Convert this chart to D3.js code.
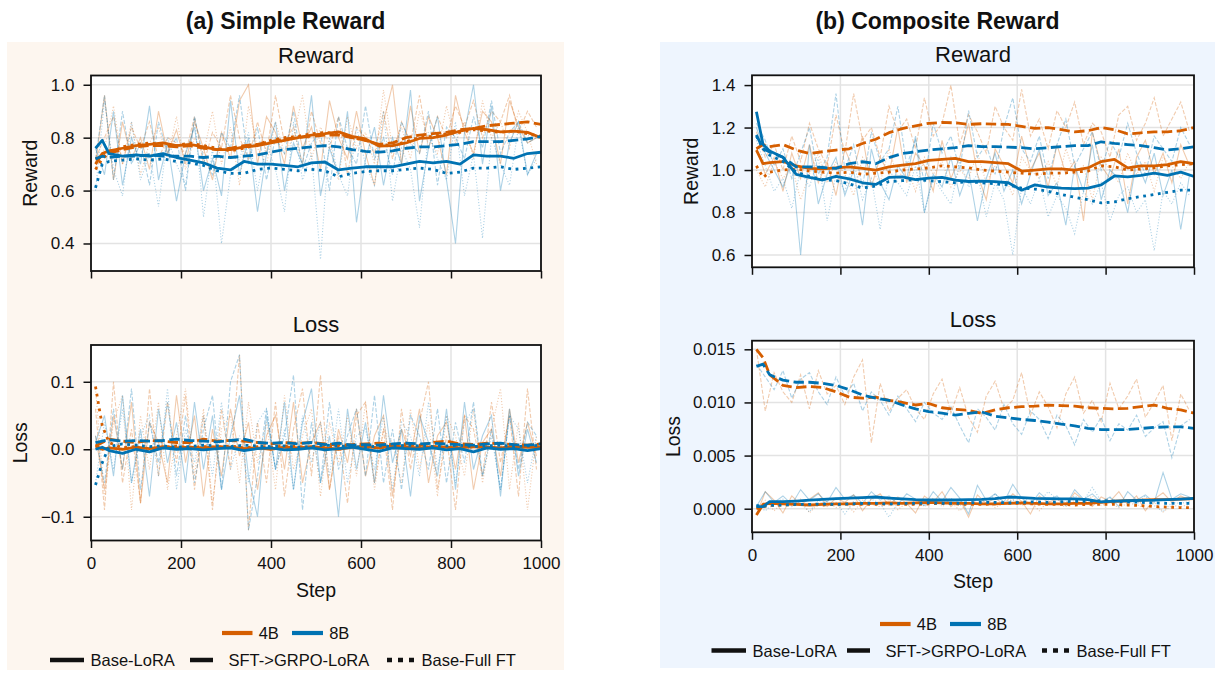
<!DOCTYPE html>
<html><head><meta charset="utf-8">
<script src="https://cdn.jsdelivr.net/npm/d3@7"></script>
<style>body{margin:0;background:#fff}svg{display:block}</style>
</head><body><svg id="chart" width="1215" height="673"></svg>
<script>
// ---------------- DATA ----------------
const rawSteps = [10,30,50,70,90,110,130,150,170,190,210,230,250,270,290,310,330,350,370,390,410,430,450,470,490,510,530,550,570,590,610,630,650,670,690,710,730,750,770,790,810,830,850,870,890,910,930,950,970,990];
const smoothSteps = [10,25,40,70,100,130,160,190,220,250,280,310,340,370,400,430,460,490,520,550,580,610,640,670,700,730,760,790,820,850,880,910,940,970,1000];
const xTicks = [0,200,400,600,800,1000];
const modelLabels = ["4B","8B"];
const methodLabels = ["Base-LoRA","SFT->GRPO-LoRA","Base-Full FT"];
const panelTitles = ["(a) Simple Reward","(b) Composite Reward"];

// (a) Simple reward — Reward
const yTicksRewA = [0.4,0.6,0.8,1.0];
const rewA_raw_4B_lora = [0.70,0.96,0.64,0.86,0.72,0.80,0.68,0.90,0.74,0.83,0.70,0.86,0.76,0.64,0.82,0.72,0.94,1.00,0.70,0.88,0.82,0.70,0.92,0.76,0.84,0.68,0.94,0.80,0.72,0.90,0.74,0.62,0.86,1.00,0.70,0.92,0.74,0.88,0.80,0.66,0.96,0.82,0.74,0.90,0.86,0.70,0.94,0.84,0.78,0.80];
const rewA_raw_4B_sft = [0.72,0.80,0.88,0.70,0.84,0.76,0.86,0.72,0.80,0.78,0.74,0.88,0.70,0.82,0.76,0.96,0.80,0.72,0.86,0.74,0.96,0.78,0.84,0.70,0.90,0.78,0.76,0.88,0.66,0.84,0.80,0.74,0.90,0.72,0.86,0.78,0.96,0.76,0.88,0.80,0.92,0.84,0.94,0.80,0.90,0.86,0.96,0.82,0.90,0.84];
const rewA_raw_4B_full = [0.68,0.76,0.92,0.70,0.86,0.66,0.78,0.84,0.72,0.88,0.68,0.80,0.74,0.90,0.70,0.84,0.62,0.92,0.76,0.70,0.86,0.74,0.80,0.96,0.72,0.84,0.78,0.64,0.88,0.76,0.82,0.70,0.98,0.76,0.84,0.72,0.90,0.80,0.74,0.92,0.78,0.86,0.72,0.94,0.80,0.86,0.76,0.90,0.82,0.70];
const rewA_raw_8B_lora = [0.76,0.66,0.90,0.62,0.80,0.70,0.92,0.64,0.78,0.56,0.74,0.84,0.60,0.72,0.58,0.94,0.66,0.80,0.52,0.74,0.86,0.60,0.78,0.70,0.96,0.58,0.76,0.66,0.90,0.48,0.72,0.84,0.62,0.80,0.70,0.98,0.56,0.76,0.88,0.64,0.40,0.82,1.00,0.70,0.92,0.60,0.78,0.86,0.66,0.74];
const rewA_raw_8B_sft = [0.72,0.96,0.64,0.90,0.70,0.78,0.62,0.86,0.74,0.80,0.60,0.88,0.72,0.66,0.82,0.76,0.96,0.70,0.84,0.64,0.80,0.74,0.90,0.68,0.78,0.82,0.60,0.88,0.76,0.70,0.92,0.72,0.80,0.66,0.86,0.78,0.74,0.90,0.62,0.84,0.80,0.72,0.88,0.76,0.94,0.74,0.82,0.86,0.78,0.80];
const rewA_raw_8B_full = [0.60,0.94,0.68,0.58,0.86,0.64,0.74,0.54,0.80,0.70,0.62,0.88,0.50,0.76,0.40,0.66,0.72,0.82,0.60,0.78,0.68,0.52,0.86,0.64,0.74,0.34,0.80,0.66,0.58,0.84,0.70,0.62,0.90,0.56,0.76,0.68,0.46,0.82,0.72,0.64,0.86,0.58,0.74,0.42,0.80,0.70,0.62,0.84,0.66,0.72];
const rewA_sm_4B_lora = [0.70,0.74,0.75,0.76,0.77,0.775,0.78,0.77,0.775,0.765,0.755,0.755,0.765,0.77,0.78,0.79,0.80,0.81,0.815,0.822,0.805,0.795,0.768,0.77,0.78,0.797,0.80,0.81,0.825,0.835,0.83,0.822,0.825,0.82,0.80];
const rewA_sm_4B_sft = [0.72,0.73,0.74,0.755,0.765,0.77,0.77,0.765,0.77,0.76,0.755,0.76,0.77,0.775,0.785,0.795,0.80,0.805,0.81,0.81,0.80,0.79,0.775,0.78,0.80,0.81,0.815,0.82,0.83,0.835,0.845,0.85,0.855,0.86,0.85];
const rewA_sm_4B_full = [0.68,0.72,0.74,0.765,0.775,0.78,0.775,0.77,0.78,0.77,0.76,0.75,0.76,0.775,0.79,0.80,0.805,0.815,0.82,0.815,0.80,0.79,0.775,0.77,0.785,0.80,0.805,0.815,0.82,0.83,0.825,0.82,0.825,0.815,0.805];
const rewA_sm_8B_lora = [0.76,0.79,0.74,0.73,0.735,0.73,0.74,0.725,0.715,0.705,0.685,0.678,0.71,0.70,0.70,0.695,0.69,0.705,0.708,0.678,0.685,0.69,0.69,0.69,0.70,0.71,0.705,0.71,0.70,0.735,0.73,0.73,0.722,0.74,0.745];
const rewA_sm_8B_sft = [0.72,0.73,0.725,0.73,0.73,0.735,0.73,0.73,0.73,0.725,0.73,0.725,0.73,0.735,0.745,0.755,0.76,0.765,0.77,0.765,0.755,0.748,0.745,0.75,0.76,0.765,0.765,0.77,0.775,0.785,0.785,0.785,0.79,0.795,0.805];
const rewA_sm_8B_full = [0.61,0.70,0.71,0.715,0.72,0.715,0.72,0.71,0.705,0.695,0.675,0.665,0.665,0.68,0.685,0.68,0.675,0.68,0.675,0.652,0.665,0.672,0.675,0.675,0.68,0.685,0.68,0.665,0.67,0.685,0.685,0.69,0.68,0.685,0.69];

// (a) Simple reward — Loss
const yTicksLossA = [-0.1,0.0,0.1];
const lossA_raw_4B_lora = [0.02,-0.06,0.05,-0.03,0.07,-0.08,0.04,0.01,-0.05,0.08,-0.02,0.05,-0.07,0.03,-0.04,0.06,-0.01,0.04,-0.06,0.02,0.05,-0.03,0.07,-0.05,0.01,0.04,-0.06,0.03,-0.02,0.06,-0.04,0.02,0.05,-0.07,0.03,-0.01,0.06,-0.05,0.02,0.04,-0.03,0.05,-0.06,0.01,0.03,-0.04,0.06,-0.02,0.04,-0.01];
const lossA_raw_4B_sft = [0.06,-0.09,0.10,-0.05,0.03,-0.08,0.09,-0.04,0.07,-0.02,0.08,-0.06,0.05,-0.09,0.06,-0.03,0.14,-0.12,0.04,-0.05,0.07,-0.07,0.03,0.09,-0.04,0.11,-0.06,0.02,-0.08,0.05,0.07,-0.05,0.03,-0.09,0.06,-0.03,0.04,0.10,-0.06,0.02,-0.09,0.05,0.03,-0.04,0.07,-0.02,0.05,-0.07,0.09,-0.03];
const lossA_raw_4B_full = [0.09,-0.07,0.04,0.08,-0.09,0.05,-0.03,0.07,-0.06,0.02,0.09,-0.04,0.06,-0.08,0.03,0.05,-0.05,0.07,-0.02,0.04,-0.06,0.08,-0.03,0.02,0.06,-0.07,0.04,-0.02,0.05,-0.04,0.07,-0.06,0.03,0.01,-0.05,0.06,-0.03,0.04,-0.07,0.05,0.02,-0.04,0.06,-0.05,0.03,0.09,-0.06,0.04,-0.09,0.02];
const lossA_raw_8B_lora = [0.01,0.05,-0.04,0.08,-0.05,0.03,-0.07,0.06,-0.02,0.04,-0.05,0.07,-0.03,0.05,-0.06,0.02,0.08,-0.04,-0.10,0.05,-0.03,0.07,-0.06,0.04,0.09,-0.05,0.02,-0.10,0.06,-0.03,0.04,-0.05,0.08,-0.02,0.03,-0.07,0.05,0.01,-0.04,0.06,-0.06,0.07,-0.03,0.02,0.05,-0.07,0.06,-0.04,0.03,-0.02];
const lossA_raw_8B_sft = [0.02,-0.05,0.06,-0.03,0.09,-0.06,0.04,-0.02,0.07,-0.04,0.05,-0.05,0.03,0.08,-0.06,0.10,0.14,-0.12,-0.04,0.06,-0.03,0.02,0.11,-0.09,0.04,-0.05,0.07,-0.03,0.02,0.06,-0.04,0.08,-0.05,0.03,-0.06,0.05,0.02,-0.03,0.06,-0.05,0.04,-0.02,0.07,-0.04,0.03,-0.06,0.05,-0.03,0.04,0.02];
const lossA_raw_8B_full = [-0.05,0.04,-0.03,0.06,-0.05,0.02,0.05,-0.04,0.09,-0.06,0.03,-0.02,0.05,-0.04,0.07,-0.03,0.02,-0.05,0.04,0.06,-0.03,0.03,-0.06,0.05,-0.02,0.04,-0.04,0.06,-0.05,0.02,0.03,-0.03,0.05,-0.06,0.04,0.02,-0.04,0.07,-0.03,0.05,-0.05,0.04,0.06,-0.04,0.02,-0.06,0.05,0.03,-0.05,0.02];
const lossA_sm_4B_lora = [0.005,0.0,0.002,0.0,0.003,0.001,0.004,0.002,0.003,0.002,0.004,0.003,0.001,0.002,0.0,0.003,0.002,0.004,0.002,0.0,0.003,0.004,0.002,0.005,0.003,0.002,0.004,0.003,0.002,0.004,0.003,0.002,0.004,0.003,0.003];
const lossA_sm_4B_sft = [0.005,0.01,0.015,0.012,0.01,0.013,0.012,0.01,0.01,0.015,0.012,0.013,0.012,0.01,0.008,0.01,0.009,0.01,0.008,0.006,0.007,0.008,0.009,0.007,0.008,0.006,0.01,0.012,0.008,0.007,0.009,0.008,0.007,0.006,0.008];
const lossA_sm_4B_full = [0.093,0.035,0.01,0.002,0.004,-0.004,0.003,0.005,0.002,0.004,0.003,0.005,0.002,0.004,0.003,0.005,0.004,0.002,0.004,0.003,0.005,0.003,0.002,0.004,0.005,0.003,0.004,0.002,0.005,0.003,0.004,0.002,0.003,0.004,0.003];
const lossA_sm_8B_lora = [0.0,0.003,-0.002,-0.006,0.0,-0.004,0.002,0.0,0.001,-0.001,0.001,0.002,-0.002,0.001,0.002,-0.001,0.0,0.002,-0.001,0.001,0.003,0.0,-0.003,0.002,0.001,0.0,0.002,-0.001,0.001,-0.004,0.002,0.0,0.001,-0.002,0.001];
const lossA_sm_8B_sft = [0.01,0.012,0.014,0.012,0.013,0.012,0.013,0.015,0.013,0.012,0.011,0.013,0.015,0.01,0.009,0.01,0.008,0.01,0.007,0.009,0.006,0.007,0.006,0.008,0.009,0.008,0.009,0.008,0.007,0.006,0.008,0.009,0.007,0.006,0.008];
const lossA_sm_8B_full = [-0.053,-0.02,0.004,0.008,0.006,0.004,0.005,0.003,0.004,0.006,0.005,0.004,0.006,0.005,0.004,0.005,0.003,0.004,0.006,0.005,0.004,0.003,0.005,0.004,0.006,0.005,0.004,0.005,0.006,0.004,0.005,0.006,0.004,0.005,0.006];

// (b) Composite reward — Reward
const yTicksRewB = [0.6,0.8,1.0,1.2,1.4];
const rewB_raw_4B_lora = [1.10,0.98,1.06,0.90,1.08,0.96,1.12,0.94,1.04,0.88,1.10,1.00,1.16,0.92,1.06,0.98,1.20,0.94,1.08,1.02,0.90,1.14,0.96,1.06,1.22,0.98,0.86,1.10,1.02,0.94,1.16,1.00,1.08,0.92,1.12,0.98,1.04,0.76,1.18,1.02,0.96,1.10,0.84,1.06,1.14,0.98,1.08,0.94,1.12,1.02];
const rewB_raw_4B_sft = [1.18,1.06,1.12,1.00,1.16,1.04,1.22,1.10,1.02,1.26,1.08,1.36,1.14,1.20,1.06,1.30,1.18,1.24,1.10,1.34,1.16,1.22,1.40,1.12,1.26,1.18,1.08,1.30,1.20,1.14,1.38,1.16,1.24,1.10,1.28,1.20,1.32,1.12,1.22,1.18,1.06,1.26,1.30,1.14,1.22,1.34,1.16,1.24,1.32,1.18];
const rewB_raw_4B_full = [1.00,0.92,1.04,0.96,1.02,0.86,0.98,1.08,0.94,1.04,0.98,0.88,1.06,1.00,0.94,1.10,0.96,1.02,0.90,1.06,0.98,1.04,0.92,1.00,0.96,1.08,0.94,1.02,0.98,0.88,1.06,1.00,0.96,1.04,0.92,1.10,0.98,1.02,0.86,1.06,1.00,0.94,1.08,0.98,1.04,0.90,1.06,1.02,0.96,1.04];
const rewB_raw_8B_lora = [1.20,1.08,1.00,0.92,1.04,0.60,1.12,0.84,0.98,1.06,0.88,1.00,0.74,1.10,0.94,0.86,1.02,0.96,1.16,0.80,0.98,0.92,1.06,0.88,1.00,0.76,0.96,1.08,0.90,1.00,0.84,0.98,1.10,0.88,0.94,0.74,1.02,0.90,1.12,0.86,1.00,0.96,0.80,1.04,0.94,1.08,0.88,1.00,0.72,0.98];
const rewB_raw_8B_sft = [1.22,1.14,1.02,1.10,0.96,1.08,1.20,0.98,1.06,1.36,1.00,1.12,0.92,1.18,1.04,1.10,1.30,1.02,1.14,0.94,1.22,1.08,1.16,1.00,1.28,1.06,1.12,0.98,1.20,1.34,1.10,1.04,1.16,0.96,1.12,1.24,1.02,1.10,1.18,1.00,1.14,1.06,1.22,1.08,0.98,1.16,1.10,1.04,1.20,1.12];
const rewB_raw_8B_full = [1.14,1.02,0.90,0.96,0.82,1.00,0.92,1.06,0.76,0.98,0.90,1.04,0.86,0.96,0.72,1.00,0.94,0.88,1.02,0.80,0.96,0.90,0.84,1.04,0.92,0.98,0.78,0.94,0.86,0.60,0.92,0.84,0.96,0.78,0.88,0.82,0.70,0.90,0.84,0.94,0.76,0.88,0.92,0.80,0.86,0.62,0.90,0.84,0.94,0.88];
const rewB_sm_4B_lora = [1.094,1.03,1.035,1.04,1.02,1.008,1.005,1.01,1.015,1.008,1.0,1.015,1.023,1.03,1.045,1.05,1.055,1.04,1.04,1.035,1.03,0.995,1.0,1.005,1.005,1.0,1.01,1.04,1.05,1.01,1.02,1.02,1.025,1.04,1.03];
const rewB_sm_4B_sft = [1.10,1.12,1.11,1.12,1.094,1.078,1.086,1.094,1.10,1.125,1.145,1.176,1.195,1.208,1.22,1.224,1.222,1.215,1.218,1.216,1.215,1.205,1.196,1.20,1.19,1.18,1.185,1.20,1.19,1.17,1.175,1.18,1.18,1.185,1.20];
const rewB_sm_4B_full = [1.02,0.965,0.99,1.0,1.005,0.995,0.99,0.985,0.99,0.98,0.985,0.99,1.0,1.005,1.01,1.02,1.015,1.01,1.0,0.995,0.99,0.985,0.98,0.985,0.985,0.99,0.995,1.02,1.015,1.0,1.005,1.01,1.02,1.025,1.03];
const rewB_sm_8B_lora = [1.274,1.12,1.09,1.06,0.98,0.965,0.953,0.97,0.958,0.94,0.932,0.965,0.968,0.955,0.962,0.965,0.952,0.946,0.948,0.945,0.94,0.905,0.93,0.92,0.915,0.912,0.915,0.93,0.972,0.968,0.975,0.985,0.975,0.99,0.97];
const rewB_sm_8B_sft = [1.165,1.10,1.085,1.06,1.015,1.015,1.012,1.008,1.03,1.039,1.03,1.058,1.078,1.086,1.094,1.10,1.105,1.115,1.11,1.11,1.108,1.105,1.10,1.105,1.11,1.115,1.115,1.133,1.125,1.12,1.115,1.105,1.095,1.10,1.11];
const rewB_sm_8B_full = [1.16,1.10,1.07,1.04,0.99,0.97,0.955,0.95,0.935,0.915,0.925,0.945,0.95,0.955,0.95,0.945,0.94,0.945,0.94,0.935,0.93,0.915,0.91,0.90,0.885,0.872,0.86,0.845,0.85,0.865,0.875,0.885,0.895,0.905,0.905];

// (b) Composite reward — Loss
const yTicksLossB = [0.000,0.005,0.010,0.015];
const lossB_raw_4B_lora = [-0.0006,0.0016,0.0008,-0.0004,0.0012,0.0004,0.0009,0.0015,0.0002,0.0010,0.0006,0.0013,-0.0002,0.0009,0.0014,0.0003,0.0011,0.0005,-0.0004,0.0012,0.0006,0.0016,0.0002,0.0009,-0.0008,0.0013,0.0005,0.0010,0.0004,0.0014,0.0007,-0.0005,0.0012,0.0006,0.0009,0.0003,0.0015,0.0008,0.0002,0.0011,0.0007,0.0016,0.0004,0.0012,-0.0002,0.0009,0.0015,0.0006,0.0012,0.0008];
const lossB_raw_4B_sft = [0.0150,0.0092,0.0128,0.0110,0.0100,0.0126,0.0094,0.0130,0.0108,0.0116,0.0098,0.0124,0.0140,0.0062,0.0118,0.0092,0.0104,0.0112,0.0094,0.0084,0.0108,0.0122,0.0090,0.0114,0.0086,0.0072,0.0106,0.0120,0.0094,0.0102,0.0128,0.0088,0.0110,0.0096,0.0076,0.0108,0.0124,0.0090,0.0102,0.0082,0.0118,0.0094,0.0106,0.0122,0.0086,0.0100,0.0116,0.0064,0.0108,0.0092];
const lossB_raw_4B_full = [0.0000,0.0008,-0.0002,0.0006,0.0003,0.0009,-0.0004,0.0005,0.0007,0.0001,0.0006,-0.0003,0.0008,0.0004,0.0002,0.0009,-0.0001,0.0006,0.0005,0.0003,0.0010,0.0002,0.0007,-0.0002,0.0006,0.0004,0.0008,0.0001,0.0005,0.0009,0.0003,0.0006,-0.0002,0.0007,0.0004,0.0002,0.0008,0.0005,0.0012,0.0003,0.0006,0.0001,0.0005,0.0004,0.0000,0.0006,-0.0003,0.0003,0.0002,0.0004];
const lossB_raw_8B_lora = [0.0002,0.0016,0.0006,0.0012,0.0004,0.0018,0.0008,0.0014,0.0006,0.0020,0.0009,0.0013,0.0005,0.0016,0.0008,0.0012,0.0004,0.0014,0.0009,0.0003,0.0016,0.0007,0.0020,0.0010,-0.0005,0.0022,0.0008,0.0014,0.0006,0.0023,0.0010,0.0004,0.0015,0.0008,0.0012,0.0003,0.0018,0.0009,0.0014,0.0006,0.0011,0.0002,0.0016,0.0008,0.0013,0.0006,0.0034,0.0009,0.0014,0.0011];
const lossB_raw_8B_sft = [0.0136,0.0124,0.0112,0.0130,0.0104,0.0122,0.0128,0.0110,0.0098,0.0124,0.0106,0.0118,0.0092,0.0110,0.0102,0.0088,0.0106,0.0094,0.0082,0.0100,0.0090,0.0084,0.0096,0.0078,0.0062,0.0094,0.0086,0.0074,0.0098,0.0080,0.0070,0.0092,0.0084,0.0066,0.0088,0.0078,0.0060,0.0084,0.0072,0.0086,0.0064,0.0080,0.0074,0.0088,0.0068,0.0076,0.0082,0.0048,0.0078,0.0084];
const lossB_raw_8B_full = [0.0004,-0.0002,0.0006,0.0009,0.0002,0.0005,-0.0003,0.0008,0.0004,0.0006,-0.0005,0.0007,0.0003,0.0009,0.0005,-0.0008,0.0006,0.0004,0.0008,0.0002,0.0007,0.0005,0.0010,0.0003,0.0006,0.0009,0.0004,0.0014,0.0006,0.0008,0.0005,0.0011,0.0007,0.0016,0.0009,0.0006,0.0012,0.0008,0.0020,0.0007,0.0010,0.0006,0.0009,0.0004,0.0012,0.0003,-0.0003,0.0006,0.0005,0.0007];
const lossB_sm_4B_lora = [-0.0006,0.0004,0.0005,0.00045,0.0004,0.00035,0.0004,0.00045,0.00045,0.0005,0.0005,0.00055,0.0005,0.00055,0.0006,0.00055,0.0005,0.0005,0.00045,0.00045,0.0005,0.00055,0.0005,0.00045,0.00045,0.0005,0.0005,0.0006,0.0007,0.00075,0.0008,0.00085,0.00085,0.0009,0.00095];
const lossB_sm_4B_sft = [0.0150,0.0142,0.0126,0.0116,0.0114,0.0115,0.0114,0.0110,0.0105,0.0104,0.0105,0.0102,0.0100,0.00976,0.0099,0.0095,0.00935,0.00925,0.00897,0.0093,0.0095,0.0096,0.00965,0.00975,0.0097,0.00965,0.0095,0.00944,0.0094,0.00945,0.0096,0.00975,0.00945,0.0093,0.0090];
const lossB_sm_4B_full = [0.0000,0.0002,0.0003,0.00035,0.0004,0.0004,0.00035,0.0004,0.00045,0.0004,0.0004,0.00045,0.0004,0.0004,0.00045,0.0005,0.00045,0.0004,0.0004,0.00045,0.0005,0.0005,0.00045,0.0004,0.0004,0.00035,0.0004,0.0004,0.0004,0.00035,0.0003,0.0002,0.00015,0.0001,0.0001];
const lossB_sm_8B_lora = [0.0002,0.0002,0.00066,0.00066,0.00072,0.0008,0.00088,0.00095,0.0010,0.00105,0.0011,0.0010,0.00092,0.00085,0.00082,0.00082,0.00082,0.00085,0.00088,0.00095,0.0011,0.00105,0.00098,0.00095,0.00092,0.00092,0.00085,0.00065,0.00072,0.00075,0.00078,0.0008,0.00085,0.0009,0.00097];
const lossB_sm_8B_sft = [0.0134,0.0136,0.0126,0.0121,0.0119,0.0119,0.0118,0.0116,0.0112,0.0107,0.0104,0.0102,0.00976,0.0094,0.00913,0.0090,0.0088,0.00897,0.0091,0.0087,0.00855,0.0084,0.0083,0.00815,0.00795,0.0078,0.00756,0.00745,0.00745,0.00745,0.00755,0.00765,0.0077,0.0077,0.00756];
const lossB_sm_8B_full = [0.0003,0.00025,0.0003,0.00035,0.0004,0.0004,0.00045,0.0004,0.00045,0.0005,0.0005,0.00045,0.0005,0.0005,0.00055,0.0005,0.0005,0.00055,0.0006,0.0006,0.00055,0.0006,0.00065,0.0006,0.00065,0.0007,0.0007,0.00075,0.0007,0.00065,0.0006,0.00055,0.0005,0.0005,0.0005];

// ---------------- STYLE ----------------
const FONT = '"Liberation Sans", Arial, Helvetica, sans-serif';
const modelColor = {"4B":"#D55E00","8B":"#0072B2"};
const TXT = "#111";
const SM_W = 2.8, RAW_W = 1.1;
const smDash = {lora:null, sft:(3.7*SM_W)+","+(1.6*SM_W), full:SM_W+","+(1.65*SM_W)};
const rawDash = {lora:null, sft:(3.7*RAW_W)+","+(1.6*RAW_W), full:RAW_W+","+(1.65*RAW_W)};

const svg = d3.select("#chart");
svg.append("rect").attr("x",7).attr("y",42).attr("width",557).attr("height",628).attr("fill","#fdf6ef");
svg.append("rect").attr("x",660).attr("y",42).attr("width",555).attr("height",626).attr("fill","#eef5fe");

svg.append("text").attr("x",285.5).attr("y",29).attr("text-anchor","middle")
  .attr("font-family",FONT).attr("font-weight","bold").attr("font-size","23px").attr("fill",TXT).text(panelTitles[0]);
svg.append("text").attr("x",937.5).attr("y",29).attr("text-anchor","middle")
  .attr("font-family",FONT).attr("font-weight","bold").attr("font-size","23px").attr("fill",TXT).text(panelTitles[1]);

function mk(model, method, raw, sm){ return {model, method, raw, sm}; }

const panels = [
  {left:91,right:541,top:75.5,bottom:271,yDomain:[0.296,1.035],yTicks:yTicksRewA,fmt:d3.format(".1f"),xLabels:false,
   title:"Reward",titleY:62.7,ylabel:"Reward",ylabelX:36.5,
   series:[mk("4B","lora",rewA_raw_4B_lora,rewA_sm_4B_lora),mk("4B","sft",rewA_raw_4B_sft,rewA_sm_4B_sft),mk("4B","full",rewA_raw_4B_full,rewA_sm_4B_full),
           mk("8B","lora",rewA_raw_8B_lora,rewA_sm_8B_lora),mk("8B","sft",rewA_raw_8B_sft,rewA_sm_8B_sft),mk("8B","full",rewA_raw_8B_full,rewA_sm_8B_full)]},
  {left:91,right:541,top:345,bottom:540.5,yDomain:[-0.1352,0.1545],yTicks:yTicksLossA,fmt:d3.format(".1f"),xLabels:true,
   title:"Loss",titleY:331.7,ylabel:"Loss",ylabelX:27,stepY:597,
   series:[mk("4B","lora",lossA_raw_4B_lora,lossA_sm_4B_lora),mk("4B","sft",lossA_raw_4B_sft,lossA_sm_4B_sft),mk("4B","full",lossA_raw_4B_full,lossA_sm_4B_full),
           mk("8B","lora",lossA_raw_8B_lora,lossA_sm_8B_lora),mk("8B","sft",lossA_raw_8B_sft,lossA_sm_8B_sft),mk("8B","full",lossA_raw_8B_full,lossA_sm_8B_full)]},
  {left:752,right:1194,top:75.3,bottom:267.3,yDomain:[0.542,1.446],yTicks:yTicksRewB,fmt:d3.format(".1f"),xLabels:false,
   title:"Reward",titleY:61.7,ylabel:"Reward",ylabelX:698,
   series:[mk("4B","lora",rewB_raw_4B_lora,rewB_sm_4B_lora),mk("4B","sft",rewB_raw_4B_sft,rewB_sm_4B_sft),mk("4B","full",rewB_raw_4B_full,rewB_sm_4B_full),
           mk("8B","lora",rewB_raw_8B_lora,rewB_sm_8B_lora),mk("8B","sft",rewB_raw_8B_sft,rewB_sm_8B_sft),mk("8B","full",rewB_raw_8B_full,rewB_sm_8B_full)]},
  {left:752,right:1194,top:340.7,bottom:532.3,yDomain:[-0.00222,0.01581],yTicks:yTicksLossB,fmt:d3.format(".3f"),xLabels:true,
   title:"Loss",titleY:326.7,ylabel:"Loss",ylabelX:680,stepY:588,
   series:[mk("4B","lora",lossB_raw_4B_lora,lossB_sm_4B_lora),mk("4B","sft",lossB_raw_4B_sft,lossB_sm_4B_sft),mk("4B","full",lossB_raw_4B_full,lossB_sm_4B_full),
           mk("8B","lora",lossB_raw_8B_lora,lossB_sm_8B_lora),mk("8B","sft",lossB_raw_8B_sft,lossB_sm_8B_sft),mk("8B","full",lossB_raw_8B_full,lossB_sm_8B_full)]}
];

panels.forEach((p, pi) => {
  const g = svg.append("g");
  const x = d3.scaleLinear().domain([0,1000]).range([p.left,p.right]);
  const y = d3.scaleLinear().domain(p.yDomain).range([p.bottom,p.top]);
  const w = p.right-p.left, h = p.bottom-p.top;
  g.append("rect").attr("x",p.left).attr("y",p.top).attr("width",w).attr("height",h).attr("fill","#fff");
  const clipId = "clip"+pi;
  g.append("clipPath").attr("id",clipId).append("rect").attr("x",p.left).attr("y",p.top).attr("width",w).attr("height",h);
  // grid
  const grid = g.append("g").attr("stroke","#e3e3e3").attr("stroke-width",1.5);
  xTicks.forEach(t => grid.append("line").attr("x1",x(t)).attr("x2",x(t)).attr("y1",p.top).attr("y2",p.bottom));
  p.yTicks.forEach(t => grid.append("line").attr("x1",p.left).attr("x2",p.right).attr("y1",y(t)).attr("y2",y(t)));
  const plot = g.append("g").attr("clip-path",`url(#${clipId})`);
  const rawLine = d3.line().x((d,i)=>x(rawSteps[i])).y(d=>y(d));
  const smLine = d3.line().x((d,i)=>x(smoothSteps[i])).y(d=>y(d));
  p.series.forEach(s => {
    plot.append("path").datum(s.raw).attr("d",rawLine).attr("fill","none")
      .attr("stroke",modelColor[s.model]).attr("stroke-opacity",0.32).attr("stroke-width",RAW_W)
      .attr("stroke-dasharray",rawDash[s.method]);
  });
  p.series.forEach(s => {
    plot.append("path").datum(s.sm).attr("d",smLine).attr("fill","none")
      .attr("stroke",modelColor[s.model]).attr("stroke-width",SM_W).attr("stroke-linejoin","round")
      .attr("stroke-dasharray",smDash[s.method]);
  });
  // frame
  g.append("rect").attr("x",p.left).attr("y",p.top).attr("width",w).attr("height",h)
    .attr("fill","none").attr("stroke","#111").attr("stroke-width",1.8);
  // axes
  const ya = g.append("g").attr("transform",`translate(${p.left},0)`)
    .call(d3.axisLeft(y).tickValues(p.yTicks).tickFormat(p.fmt).tickSize(7.5).tickPadding(9));
  const xa = g.append("g").attr("transform",`translate(0,${p.bottom})`)
    .call(d3.axisBottom(x).tickValues(xTicks).tickFormat(p.xLabels ? d3.format("d") : () => "").tickSize(7.5).tickPadding(9));
  [ya,xa].forEach(a => {
    a.select(".domain").remove();
    a.selectAll("line").attr("stroke","#111").attr("stroke-width",1.5);
    a.selectAll("text").attr("font-size","17px").attr("font-family",FONT).attr("fill",TXT);
  });
  // titles
  const cx = (p.left+p.right)/2;
  g.append("text").attr("x",cx).attr("y",p.titleY).attr("text-anchor","middle")
    .attr("font-family",FONT).attr("font-size","22px").attr("fill",TXT).text(p.title);
  g.append("text").attr("transform",`translate(${p.ylabelX},${(p.top+p.bottom)/2}) rotate(-90)`)
    .attr("text-anchor","middle").attr("font-family",FONT).attr("font-size","19.5px").attr("fill",TXT).text(p.ylabel);
  if (p.xLabels) {
    g.append("text").attr("x",cx).attr("y",p.stepY).attr("text-anchor","middle")
      .attr("font-family",FONT).attr("font-size","19.5px").attr("fill",TXT).text("Step");
  }
});

// ---------------- LEGENDS ----------------
const legends = [
  {row1Y:633, row2Y:660, models:[[222,252.5],[292,323]], methods:[[50,84],[190,224],[387,417]]},
  {row1Y:624, row2Y:650.5, models:[[880,910.6],[950,981]], methods:[[711.5,746],[847,881],[1042,1072]]}
];
const legDash = {lora:null, sft:"23,12", full:"5,6"};
const methodKeys = ["lora","sft","full"];
legends.forEach(L => {
  const g = svg.append("g");
  modelLabels.forEach((m,i) => {
    const [a,b] = L.models[i];
    g.append("line").attr("x1",a).attr("x2",b).attr("y1",L.row1Y).attr("y2",L.row1Y)
      .attr("stroke",modelColor[m]).attr("stroke-width",4.2);
    g.append("text").attr("x",b+6.2).attr("y",L.row1Y+6).attr("font-family",FONT).attr("font-size","16.5px").attr("fill",TXT).text(m);
  });
  methodLabels.forEach((m,i) => {
    const [a,b] = L.methods[i];
    g.append("line").attr("x1",a).attr("x2",b).attr("y1",L.row2Y).attr("y2",L.row2Y)
      .attr("stroke","#111").attr("stroke-width",4.5).attr("stroke-dasharray",legDash[methodKeys[i]]);
    g.append("text").attr("x",b+(i===0?6.5:4.5)).attr("y",L.row2Y+6.3).attr("font-family",FONT).attr("font-size","16.5px").attr("fill",TXT).text(m);
  });
});
</script>
</body></html>
